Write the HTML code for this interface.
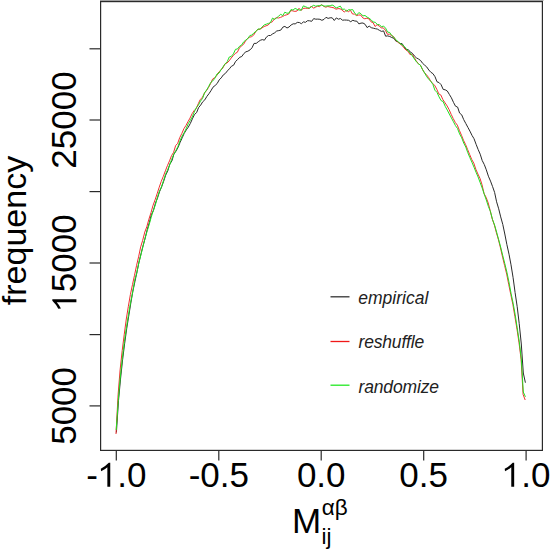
<!DOCTYPE html>
<html><head><meta charset="utf-8"><style>
html,body{margin:0;padding:0;background:#fff;width:550px;height:551px;overflow:hidden}
svg{position:absolute;left:0;top:0}
text{font-family:"Liberation Sans",sans-serif;fill:#000}
</style></head><body>
<svg width="550" height="551" viewBox="0 0 550 551">
<rect x="100" y="0" width="443.5" height="1" fill="#a0a0a0"/>
<g fill="none" stroke="#2a2a2a" stroke-width="1.2">
<rect x="100.6" y="1.6" width="441.8" height="448.8"/>
<line x1="116.3" y1="451" x2="116.3" y2="460.5"/>
<line x1="218.8" y1="451" x2="218.8" y2="460.5"/>
<line x1="321.2" y1="451" x2="321.2" y2="460.5"/>
<line x1="423.7" y1="451" x2="423.7" y2="460.5"/>
<line x1="526.1" y1="451" x2="526.1" y2="460.5"/>
<line x1="89.5" y1="48.8" x2="100" y2="48.8"/>
<line x1="89.5" y1="120.0" x2="100" y2="120.0"/>
<line x1="89.5" y1="191.6" x2="100" y2="191.6"/>
<line x1="89.5" y1="263.0" x2="100" y2="263.0"/>
<line x1="89.5" y1="334.6" x2="100" y2="334.6"/>
<line x1="89.5" y1="405.9" x2="100" y2="405.9"/>
</g>
<g fill="none" stroke-width="1.0" stroke-linejoin="round">
<polyline stroke="#2a2a2a" points="116.4,432.5 118.5,400.6 120.5,379.1 122.6,359.7 124.6,343.8 126.7,328.7 128.7,316.2 130.8,303.1 132.8,291.5 134.9,281.7 137.0,271.8 139.0,262.1 141.1,253.5 143.1,245.8 145.2,238.0 147.2,229.7 149.3,222.6 151.3,214.8 153.4,210.6 155.5,203.0 157.5,198.0 159.6,191.5 161.6,186.9 163.7,181.2 165.7,175.1 167.8,170.8 169.8,164.1 171.9,160.9 173.9,154.2 176.0,151.1 178.1,147.3 180.1,142.4 182.2,137.8 184.2,133.4 186.3,129.9 188.3,127.1 190.4,123.3 192.4,118.8 194.5,114.5 196.6,112.6 198.6,107.6 200.7,105.1 202.7,101.8 204.8,99.9 206.8,96.5 208.9,93.8 210.9,90.8 213.0,87.2 215.1,85.5 217.1,83.6 219.2,79.9 221.2,77.9 223.3,74.9 225.3,73.5 227.4,70.9 229.4,68.8 231.5,66.2 233.6,65.2 235.6,61.4 237.7,59.5 239.7,57.3 241.8,56.5 243.8,53.6 245.9,51.8 247.9,51.2 250.0,49.9 252.0,47.8 254.1,43.4 256.2,43.4 258.2,41.8 260.3,40.3 262.3,39.6 264.4,40.2 266.4,37.1 268.5,35.5 270.5,35.5 272.6,33.9 274.7,32.8 276.7,31.0 278.8,30.6 280.8,30.1 282.9,27.1 284.9,26.4 287.0,28.0 289.0,27.0 291.1,25.0 293.2,23.8 295.2,23.9 297.3,22.4 299.3,22.5 301.4,23.7 303.4,21.9 305.5,22.3 307.5,20.7 309.6,20.8 311.7,21.3 313.7,18.6 315.8,19.2 317.8,19.1 319.9,19.3 321.9,20.3 324.0,19.4 326.0,17.3 328.1,18.4 330.1,17.8 332.2,17.8 334.3,20.5 336.3,17.9 338.4,19.2 340.4,18.5 342.5,20.2 344.5,20.0 346.6,20.1 348.6,20.3 350.7,21.7 352.8,20.3 354.8,21.0 356.9,21.2 358.9,23.9 361.0,23.1 363.0,23.0 365.1,24.3 367.1,27.6 369.2,26.1 371.3,27.7 373.3,28.2 375.4,28.7 377.4,29.1 379.5,30.4 381.5,31.4 383.6,30.9 385.6,36.2 387.7,35.9 389.8,36.5 391.8,37.5 393.9,38.3 395.9,41.2 398.0,41.6 400.0,43.7 402.1,43.6 404.1,46.7 406.2,49.7 408.2,49.5 410.3,52.1 412.4,53.3 414.4,56.0 416.5,57.9 418.5,59.0 420.6,60.5 422.6,63.3 424.7,65.2 426.7,66.9 428.8,70.0 430.9,72.3 432.9,73.6 435.0,76.7 437.0,81.8 439.1,82.6 441.1,84.7 443.2,89.4 445.2,89.8 447.3,91.0 449.4,94.5 451.4,97.8 453.5,102.4 455.5,106.2 457.6,107.1 459.6,113.1 461.7,114.8 463.7,119.6 465.8,123.5 467.9,127.4 469.9,131.1 472.0,135.4 474.0,138.7 476.1,144.3 478.1,149.4 480.2,154.2 482.2,160.5 484.3,164.6 486.3,169.8 488.4,176.2 490.5,181.1 492.5,186.4 494.6,192.4 496.6,201.8 498.7,208.8 500.7,216.9 502.8,224.5 504.8,234.0 506.9,244.7 509.0,254.2 511.0,264.8 513.1,277.7 515.1,292.6 517.2,306.7 519.2,323.5 521.3,344.0 523.3,373.0 525.4,382.7"/>
<polyline stroke="#f03030" points="116.0,434.0 118.1,394.7 120.1,369.9 122.2,350.6 124.2,334.8 126.3,319.0 128.3,306.6 130.4,294.5 132.5,284.5 134.5,275.3 136.6,265.3 138.6,256.8 140.7,246.8 142.7,240.3 144.8,232.0 146.8,226.8 148.9,219.2 151.0,212.6 153.0,205.4 155.1,199.8 157.1,193.8 159.2,187.3 161.2,181.5 163.3,176.4 165.4,170.8 167.4,165.7 169.5,160.9 171.5,155.7 173.6,152.3 175.6,145.7 177.7,143.3 179.7,137.7 181.8,133.5 183.9,128.7 185.9,125.6 188.0,121.6 190.0,118.1 192.1,113.7 194.1,110.6 196.2,108.5 198.3,103.7 200.3,99.4 202.4,97.4 204.4,93.2 206.5,90.6 208.5,87.5 210.6,83.5 212.6,79.1 214.7,77.6 216.8,75.6 218.8,72.0 220.9,70.0 222.9,67.9 225.0,63.8 227.0,63.0 229.1,60.9 231.2,58.0 233.2,55.7 235.3,53.4 237.3,52.3 239.4,48.1 241.4,45.9 243.5,44.4 245.5,41.0 247.6,38.4 249.7,37.2 251.7,36.6 253.8,34.9 255.8,31.3 257.9,29.3 259.9,29.3 262.0,27.9 264.1,26.5 266.1,25.8 268.2,25.0 270.2,22.7 272.3,21.8 274.3,19.0 276.4,17.7 278.4,18.0 280.5,17.4 282.6,16.5 284.6,15.4 286.7,14.8 288.7,14.0 290.8,10.6 292.8,10.9 294.9,11.4 297.0,11.0 299.0,8.3 301.1,10.5 303.1,8.4 305.2,8.2 307.2,8.3 309.3,8.5 311.3,6.0 313.4,8.2 315.5,7.2 317.5,6.2 319.6,6.6 321.6,4.7 323.7,6.3 325.7,7.2 327.8,6.5 329.9,7.0 331.9,7.4 334.0,7.9 336.0,9.2 338.1,8.6 340.1,8.8 342.2,10.0 344.2,12.1 346.3,10.3 348.4,11.7 350.4,10.3 352.5,14.0 354.5,14.1 356.6,15.6 358.6,15.0 360.7,15.0 362.8,17.9 364.8,18.8 366.9,18.2 368.9,18.8 371.0,21.8 373.0,22.5 375.1,26.5 377.1,24.6 379.2,26.1 381.3,27.9 383.3,27.9 385.4,30.2 387.4,34.3 389.5,34.2 391.5,35.5 393.6,36.6 395.7,40.2 397.7,42.1 399.8,43.7 401.8,45.1 403.9,47.8 405.9,50.0 408.0,51.2 410.0,54.6 412.1,54.3 414.2,57.5 416.2,60.9 418.3,63.6 420.3,65.1 422.4,69.2 424.4,72.6 426.5,74.8 428.6,77.5 430.6,81.0 432.7,83.6 434.7,85.3 436.8,89.3 438.8,93.9 440.9,95.1 442.9,99.6 445.0,102.8 447.1,105.9 449.1,109.6 451.2,114.4 453.2,118.5 455.3,122.5 457.3,125.1 459.4,130.4 461.5,135.3 463.5,140.3 465.6,144.6 467.6,149.5 469.7,154.6 471.7,159.4 473.8,163.2 475.8,169.2 477.9,174.0 480.0,178.4 482.0,184.7 484.1,193.7 486.1,197.3 488.2,202.9 490.2,210.7 492.3,219.1 494.4,225.1 496.4,232.7 498.5,239.9 500.5,248.0 502.6,257.2 504.6,265.5 506.7,274.1 508.7,284.3 510.8,294.6 512.9,304.6 514.9,316.5 517.0,329.2 519.0,342.6 521.1,359.3 523.1,394.5 525.2,400.0"/>
<polyline stroke="#20e020" points="116.2,430.0 118.3,399.8 120.3,377.0 122.4,357.5 124.4,341.4 126.5,326.9 128.5,314.6 130.6,302.4 132.7,292.0 134.7,280.2 136.8,272.9 138.8,262.8 140.9,254.9 142.9,246.3 145.0,238.4 147.0,231.6 149.1,224.8 151.2,217.3 153.2,210.8 155.3,205.1 157.3,197.8 159.4,191.3 161.4,187.1 163.5,180.6 165.6,174.2 167.6,169.8 169.7,164.9 171.7,159.3 173.8,154.1 175.8,150.6 177.9,146.6 179.9,141.1 182.0,136.2 184.1,132.8 186.1,128.8 188.2,123.8 190.2,120.5 192.3,116.9 194.3,111.9 196.4,107.6 198.5,104.9 200.5,101.1 202.6,98.4 204.6,92.7 206.7,89.9 208.7,86.4 210.8,82.4 212.8,80.9 214.9,78.2 217.0,74.0 219.0,73.1 221.1,69.7 223.1,66.7 225.2,63.8 227.2,61.7 229.3,57.0 231.4,56.3 233.4,53.9 235.5,49.3 237.5,49.0 239.6,46.2 241.6,45.1 243.7,41.8 245.7,40.2 247.8,38.6 249.9,35.5 251.9,35.1 254.0,32.7 256.0,31.6 258.1,29.0 260.1,29.0 262.2,27.0 264.3,24.8 266.3,24.2 268.4,23.4 270.4,22.7 272.5,18.1 274.5,19.4 276.6,17.9 278.6,16.2 280.7,14.3 282.8,15.6 284.8,12.2 286.9,13.2 288.9,13.1 291.0,9.5 293.0,10.1 295.1,8.4 297.2,9.4 299.2,10.1 301.3,10.1 303.3,5.9 305.4,6.6 307.4,7.6 309.5,8.1 311.5,6.7 313.6,5.3 315.7,6.2 317.7,5.8 319.8,5.5 321.8,5.0 323.9,6.1 325.9,6.1 328.0,5.8 330.1,5.8 332.1,5.0 334.2,6.0 336.2,8.0 338.3,7.0 340.3,6.1 342.4,9.4 344.4,9.1 346.5,11.2 348.6,9.7 350.6,9.9 352.7,9.6 354.7,13.1 356.8,15.1 358.8,12.6 360.9,13.7 363.0,15.9 365.0,15.5 367.1,17.1 369.1,18.2 371.2,19.9 373.2,22.0 375.3,22.3 377.3,24.5 379.4,24.6 381.5,26.8 383.5,26.0 385.6,28.2 387.6,32.1 389.7,32.5 391.7,35.4 393.8,37.2 395.9,39.9 397.9,41.4 400.0,43.6 402.0,44.7 404.1,46.3 406.1,48.5 408.2,51.1 410.2,52.9 412.3,55.9 414.4,58.9 416.4,61.8 418.5,63.9 420.5,65.2 422.6,69.7 424.6,72.9 426.7,76.7 428.8,79.3 430.8,81.3 432.9,84.4 434.9,90.2 437.0,92.4 439.0,96.8 441.1,100.6 443.1,101.5 445.2,106.3 447.3,110.1 449.3,114.0 451.4,117.9 453.4,121.7 455.5,125.7 457.5,128.5 459.6,133.9 461.7,137.8 463.7,143.0 465.8,147.1 467.8,152.7 469.9,157.7 471.9,162.2 474.0,167.2 476.0,172.2 478.1,177.0 480.2,182.7 482.2,188.0 484.3,194.4 486.3,200.0 488.4,206.5 490.4,211.4 492.5,219.5 494.6,225.1 496.6,232.1 498.7,239.8 500.7,247.2 502.8,255.8 504.8,263.6 506.9,272.2 508.9,281.8 511.0,293.2 513.1,303.2 515.1,314.2 517.2,327.7 519.2,341.1 521.3,358.9 523.3,392.0 525.4,396.8"/>
</g>
<g stroke-width="1.3"><line x1="330.5" y1="296.8" x2="349.5" y2="296.8" stroke="#333"/><line x1="330.5" y1="341.5" x2="349.5" y2="341.5" stroke="#f01818"/><line x1="330.5" y1="385.2" x2="349.5" y2="385.2" stroke="#22e822"/></g>
<text x="86.19" y="486.80" font-size="35">- .0</text><path d="M556,0L556,1150Q420,1020 190,905L172,1060Q430,1190 640,1409L726,1409L726,0Z" transform="translate(97.85 486.80) scale(0.017090 -0.017090)"/>
<text x="188.64" y="486.80" font-size="35">-0.5</text>
<text x="296.92" y="486.80" font-size="35">0.0</text>
<text x="399.37" y="486.80" font-size="35">0.5</text>
<text x="501.77" y="486.80" font-size="35"> .0</text><path d="M556,0L556,1150Q420,1020 190,905L172,1060Q430,1190 640,1409L726,1409L726,0Z" transform="translate(501.77 486.80) scale(0.017090 -0.017090)"/>
<g transform="translate(76.4 120.0) rotate(-90)"><text x="-48.66" y="0.00" font-size="35">25000</text></g>
<g transform="translate(76.4 263.0) rotate(-90)"><text x="-48.66" y="0.00" font-size="35"> 5000</text><path d="M556,0L556,1150Q420,1020 190,905L172,1060Q430,1190 640,1409L726,1409L726,0Z" transform="translate(-48.66 0.00) scale(0.017090 -0.017090)"/></g>
<g transform="translate(76.4 405.9) rotate(-90)"><text x="-38.93" y="0.00" font-size="35">5000</text></g>
<text transform="translate(26.2 230.5) rotate(-90)" font-size="34" text-anchor="middle">frequency</text>
<g font-size="17.5" font-style="italic">
<text x="358.3" y="303.6" style="fill:#222">empirical</text>
<text x="358.5" y="347.9" style="fill:#222;letter-spacing:-0.17px">reshuffle</text>
<text x="358.5" y="393.0" style="fill:#222;letter-spacing:-0.14px">randomize</text>
</g>
<text x="292" y="532.8" font-size="35">M</text>
<text x="321.5" y="543.6" font-size="22.5">ij</text>
<text x="321.8" y="515" font-size="22.5">αβ</text>
</svg></body></html>
